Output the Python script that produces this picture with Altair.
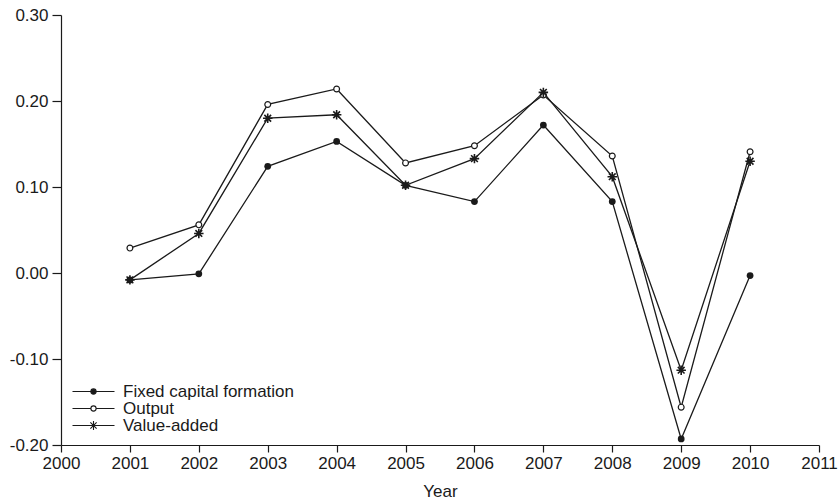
import altair as alt
import pandas as pd

# Annual growth rates by series
years = list(range(2001, 2011))
series_names = ["Fixed capital formation", "Output", "Value-added"]
fixed_capital = [-0.008, -0.001, 0.124, 0.153, 0.102, 0.083, 0.172, 0.083, -0.193, -0.003]
output = [0.029, 0.056, 0.196, 0.214, 0.128, 0.148, 0.207, 0.136, -0.156, 0.141]
value_added = [-0.008, 0.046, 0.180, 0.184, 0.102, 0.133, 0.210, 0.112, -0.113, 0.130]
x_ticks = list(range(2000, 2012))
y_ticks = [-0.2, -0.1, 0.0, 0.1, 0.2, 0.3]

rows = []
for name, vals in zip(series_names, [fixed_capital, output, value_added]):
    for yr, v in zip(years, vals):
        rows.append({"Year": yr, "Series": name, "Value": v})
df = pd.DataFrame(rows)

INK = "#1a1a1a"
FONT = "Liberation Sans"

# marker glyphs (unit box -1..1)
ASTERISK = "M-1,0L1,0M0,-1L0,1M-0.71,-0.71L0.71,0.71M-0.71,0.71L0.71,-0.71"
# legend glyphs: a line segment running through each marker
CIRC = "M-0.65,0A0.65,0.65 0 1,0 0.65,0A0.65,0.65 0 1,0 -0.65,0Z"
LEG_FILLED = "M-5.25,0L5.25,0" + CIRC
LEG_OPEN = "M-5.25,0L-0.65,0M0.65,0L5.25,0" + CIRC
LEG_STAR = "M-5.25,0L5.25,0M0,-1.1L0,1.1M-0.78,-0.78L0.78,0.78M-0.78,0.78L0.78,-0.78"

x_enc = alt.X("Year:Q", scale=alt.Scale(domain=[2000, 2011], nice=False, zero=False),
              axis=alt.Axis(values=x_ticks, format="d", title="Year", tickSize=7,
                            labelPadding=3, titlePadding=12, labelFlush=False))
y_enc = alt.Y("Value:Q", scale=alt.Scale(domain=[-0.2, 0.3], nice=False, zero=False),
              axis=alt.Axis(values=y_ticks, format=".2f", title=None, tickSize=9,
                            labelPadding=4,
                            labelExpr="replace(datum.label, '\u2212', '-')"))

base = alt.Chart(df)

lines = base.mark_line(color=INK, strokeWidth=1.3).encode(
    x=x_enc, y=y_enc, detail="Series:N"
)

dots = base.transform_filter(
    alt.datum.Series == series_names[0]
).mark_point(shape="circle", size=46, filled=True, color=INK, opacity=1).encode(
    x=x_enc, y=y_enc
)

rings = base.transform_filter(
    alt.datum.Series == series_names[1]
).mark_point(shape="circle", size=34, fill="white", stroke=INK, strokeWidth=1.2,
             opacity=1).encode(x=x_enc, y=y_enc)

stars = base.transform_filter(
    alt.datum.Series == series_names[2]
).mark_point(shape=ASTERISK, size=90, filled=False, color=INK, strokeWidth=1.6,
             opacity=1).encode(x=x_enc, y=y_enc)

legend_layer = base.transform_filter("false").mark_point(
    strokeWidth=1.1, opacity=1, size=64
).encode(
    x=x_enc, y=y_enc,
    shape=alt.Shape("Series:N", scale=alt.Scale(domain=series_names,
                                                range=[LEG_FILLED, LEG_OPEN, LEG_STAR]),
                    legend=alt.Legend(title=None, orient="none", legendX=24, legendY=368,
                                      symbolSize=64, labelOffset=21, rowPadding=-1,
                                      padding=0, labelLimit=0,
                                      symbolStrokeWidth=1.1, symbolOpacity=1,
                                      labelFont=FONT, labelFontSize=17, labelColor=INK)),
    fill=alt.Fill("Series:N", scale=alt.Scale(domain=series_names,
                                              range=[INK, "white", "transparent"])),
    stroke=alt.Stroke("Series:N", scale=alt.Scale(domain=series_names,
                                                  range=[INK, INK, INK])),
)

chart = alt.layer(lines, dots, rings, stars, legend_layer).properties(
    width=758, height=430,
    background="white",
    autosize=alt.AutoSizeParams(type="none"),
    padding={"left": 61, "top": 15, "right": 21, "bottom": 57},
).configure_view(stroke=None).configure_axis(
    grid=False, domainColor=INK, tickColor=INK, labelColor=INK, titleColor=INK,
    labelFont=FONT, titleFont=FONT, labelFontSize=17, titleFontSize=17,
    titleFontWeight="normal", domainWidth=1.2, tickWidth=1.2,
)

chart.save("out.html", embed_options={"renderer": "svg", "actions": False})
